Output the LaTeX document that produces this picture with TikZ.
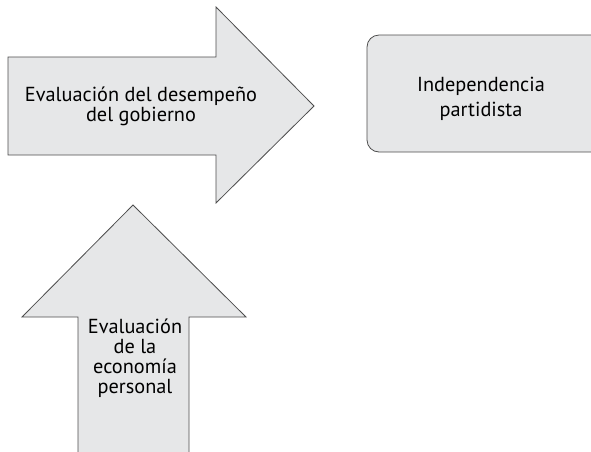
\documentclass[tikz,border=0pt]{standalone}
\usepackage{fontspec}
\setmainfont{PT Sans}
\usepackage{tikz}
\definecolor{shapefill}{HTML}{E6E7E8}
\definecolor{shapeline}{HTML}{4D4D4D}
\begin{document}
\begin{tikzpicture}[x=1pt,y=-1pt,
  blockshape/.style={fill=shapefill,draw=shapeline,line width=0.8pt},
  blocktext/.style={align=center,font=\fontsize{20.3}{20}\selectfont,inner sep=0pt}]
\useasboundingbox (0,0) rectangle (591,451);
\clip (0,0) rectangle (591,451);
% arrow to the right
\draw[blockshape] (8,57) -- (216,57) -- (216,7) -- (314,106) -- (216,203) -- (216,155) -- (8,155) -- cycle;
% arrow upwards
\draw[blockshape] (78,470) -- (78,317) -- (22,317) -- (133,205) -- (246,317) -- (189,317) -- (189,470);
% box
\draw[blockshape,rounded corners=12pt] (367,35) rectangle (610,152);
\node[blocktext] (gobierno) at (141,106) {Evaluación del desempeño\\del gobierno};
\node[blocktext] (economia) at (135,358) {Evaluación\\de la\\economía\\personal};
\node[blocktext,font=\fontsize{20.3}{25}\selectfont] (partidista) at (481,99) {Independencia\\partidista};
\end{tikzpicture}
\end{document}
